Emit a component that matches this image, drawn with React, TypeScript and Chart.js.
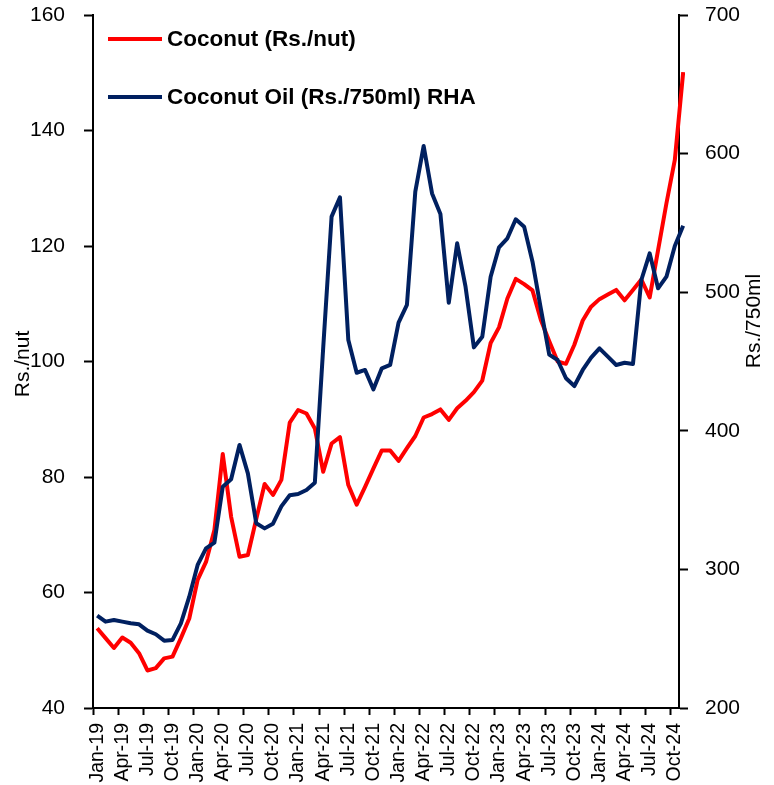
import React, { useEffect, useRef } from 'react';
import { Chart, registerables } from 'chart.js';

Chart.register(...registerables);

const months: string[] = [
  'Jan-19', 'Feb-19', 'Mar-19', 'Apr-19', 'May-19', 'Jun-19', 'Jul-19', 'Aug-19', 'Sep-19', 'Oct-19', 'Nov-19', 'Dec-19',
  'Jan-20', 'Feb-20', 'Mar-20', 'Apr-20', 'May-20', 'Jun-20', 'Jul-20', 'Aug-20', 'Sep-20', 'Oct-20', 'Nov-20', 'Dec-20',
  'Jan-21', 'Feb-21', 'Mar-21', 'Apr-21', 'May-21', 'Jun-21', 'Jul-21', 'Aug-21', 'Sep-21', 'Oct-21', 'Nov-21', 'Dec-21',
  'Jan-22', 'Feb-22', 'Mar-22', 'Apr-22', 'May-22', 'Jun-22', 'Jul-22', 'Aug-22', 'Sep-22', 'Oct-22', 'Nov-22', 'Dec-22',
  'Jan-23', 'Feb-23', 'Mar-23', 'Apr-23', 'May-23', 'Jun-23', 'Jul-23', 'Aug-23', 'Sep-23', 'Oct-23', 'Nov-23', 'Dec-23',
  'Jan-24', 'Feb-24', 'Mar-24', 'Apr-24', 'May-24', 'Jun-24', 'Jul-24', 'Aug-24', 'Sep-24', 'Oct-24', 'Nov-24',
];

// Coconut (Rs./nut) - left axis
const coconut: number[] = [
  53.8, 52.1, 50.4, 52.2, 51.3, 49.5, 46.5, 46.9, 48.6, 48.9, 52.1, 55.5,
  62.2, 65.3, 70.8, 84.0, 73.1, 66.2, 66.5, 72.7, 78.8, 76.9, 79.5, 89.4,
  91.6, 91.0, 88.4, 80.9, 85.8, 86.9, 78.6, 75.2, 78.3, 81.5, 84.6, 84.6,
  82.8, 85.0, 87.1, 90.3, 90.9, 91.7, 89.9, 91.9, 93.2, 94.7, 96.7, 103.2,
  105.9, 110.9, 114.3, 113.4, 112.3, 107.2, 103.5, 100.0, 99.6, 102.9, 107.1, 109.5,
  110.8, 111.6, 112.4, 110.6, 112.4, 114.2, 111.1, 119.3, 127.4, 134.9, 150.1,
];

// Coconut Oil (Rs./750ml) RHA - right axis
const coconutOil: number[] = [
  266.6, 262.3, 263.5, 262.3, 261.1, 260.4, 255.8, 253.2, 248.6, 249.1, 261.1, 280.3,
  303.2, 315.2, 319.3, 359.7, 365.0, 389.8, 369.3, 333.3, 329.6, 333.0, 345.5, 353.5,
  354.4, 357.3, 362.6, 460.0, 554.5, 568.5, 465.5, 441.9, 443.9, 429.9, 445.1, 447.5,
  478.0, 490.8, 572.5, 605.5, 571.3, 556.4, 492.4, 535.3, 504.0, 460.2, 467.9, 511.2,
  532.4, 538.9, 552.6, 547.3, 522.0, 488.0, 455.0, 451.1, 437.9, 432.3, 443.9, 452.8,
  459.5, 453.5, 447.5, 449.1, 448.2, 508.8, 528.0, 502.8, 511.2, 533.3, 548.0,
];

const leftTicks = { min: 40, max: 160, step: 20 };
const rightTicks = { min: 200, max: 700, step: 100 };
const lastShownIndex = 69; // Oct-24 (Nov-24 sits just past the right axis)
const labelEvery = 3;

const seriesNames = ['Coconut (Rs./nut)', 'Coconut Oil (Rs./750ml) RHA'];
const axisTitles = ['Rs./nut', 'Rs./750ml'];

const RED = '#FF0000';
const NAVY = '#002060';
const FONT = '"Liberation Sans", Arial, sans-serif';

const overlayPlugin = {
  id: 'overlay',
  afterDraw(chart: any) {
    const ctx = chart.ctx as CanvasRenderingContext2D;
    ctx.save();
    const rows = [
      { y: 39, color: RED, text: seriesNames[0] },
      { y: 97, color: NAVY, text: seriesNames[1] },
    ];
    rows.forEach((r) => {
      ctx.strokeStyle = r.color;
      ctx.lineWidth = 4;
      ctx.lineCap = 'butt';
      ctx.beginPath();
      ctx.moveTo(108, r.y);
      ctx.lineTo(162, r.y);
      ctx.stroke();
      ctx.fillStyle = '#000';
      ctx.font = `bold 22.5px ${FONT}`;
      ctx.textAlign = 'left';
      ctx.textBaseline = 'middle';
      ctx.fillText(r.text, 167, r.y + 1);
    });
    ctx.font = `21px ${FONT}`;
    ctx.fillStyle = '#000';
    ctx.textAlign = 'center';
    ctx.textBaseline = 'middle';
    ctx.save();
    ctx.translate(23, 364);
    ctx.rotate(-Math.PI / 2);
    ctx.fillText(axisTitles[0], 0, 0);
    ctx.restore();
    ctx.save();
    ctx.translate(754, 321);
    ctx.rotate(-Math.PI / 2);
    ctx.fillText(axisTitles[1], 0, 0);
    ctx.restore();
    ctx.restore();
  },
};

export default function App() {
  const canvasRef = useRef<HTMLCanvasElement | null>(null);

  useEffect(() => {
    if (!canvasRef.current) return;
    const xTickValues: number[] = [];
    for (let i = 0; i <= lastShownIndex; i += labelEvery) {
      xTickValues.push(i - 0.5, i);
    }
    const lineClip = { left: 0, top: 2, right: 6, bottom: 0 };
    const chart = new Chart(canvasRef.current, {
      type: 'line',
      data: {
        datasets: [
          {
            label: seriesNames[0],
            data: coconut.map((v, i) => ({ x: i, y: v })),
            borderColor: RED,
            backgroundColor: RED,
            borderWidth: 4,
            pointRadius: 0,
            tension: 0,
            borderJoinStyle: 'round',
            yAxisID: 'y',
            order: 1,
            clip: lineClip,
          },
          {
            label: seriesNames[1],
            data: coconutOil.map((v, i) => ({ x: i, y: v })),
            borderColor: NAVY,
            backgroundColor: NAVY,
            borderWidth: 4,
            pointRadius: 0,
            tension: 0,
            borderJoinStyle: 'round',
            yAxisID: 'y1',
            order: 0,
            clip: lineClip,
          },
        ],
      },
      options: {
        animation: false,
        responsive: false,
        devicePixelRatio: 1,
        layout: { padding: { top: 15, left: 0, right: 0, bottom: 0 } },
        plugins: {
          legend: { display: false },
          tooltip: { enabled: false },
        },
        scales: {
          x: {
            type: 'linear',
            min: -0.5,
            max: lastShownIndex + 0.5,
            border: { display: true, color: '#000', width: 2 },
            grid: {
              drawOnChartArea: false,
              drawTicks: true,
              tickLength: 7,
              tickWidth: 2,
              color: 'rgba(0,0,0,0)',
              tickColor: (c: any) =>
                c.tick && !Number.isInteger(c.tick.value) ? '#000' : 'rgba(0,0,0,0)',
            },
            afterBuildTicks: (s: any) => {
              s.ticks = xTickValues.map((v) => ({ value: v }));
            },
            ticks: {
              autoSkip: false,
              minRotation: 90,
              maxRotation: 90,
              padding: 8,
              color: '#000',
              font: { family: FONT, size: 19.5 },
              callback: (v: any) => (Number.isInteger(v) ? months[v] : ''),
            },
            afterFit: (s: any) => {
              s.height = 77;
              s.paddingLeft = 0;
              s.paddingRight = 0;
            },
          },
          y: {
            position: 'left',
            min: leftTicks.min,
            max: leftTicks.max,
            border: { display: true, color: '#000', width: 2 },
            grid: { drawOnChartArea: false, tickLength: 9, tickWidth: 2, color: '#000', tickColor: '#000' },
            ticks: {
              stepSize: leftTicks.step,
              padding: 19,
              color: '#000',
              font: { family: FONT, size: 21 },
            },
            afterFit: (s: any) => {
              s.width = 93;
              s.paddingTop = 0;
              s.paddingBottom = 0;
            },
          },
          y1: {
            position: 'right',
            min: rightTicks.min,
            max: rightTicks.max,
            border: { display: true, color: '#000', width: 2 },
            grid: { drawOnChartArea: false, tickLength: 9, tickWidth: 2, color: '#000', tickColor: '#000' },
            ticks: {
              stepSize: rightTicks.step,
              padding: 17,
              color: '#000',
              font: { family: FONT, size: 21 },
            },
            afterFit: (s: any) => {
              s.width = 95;
              s.paddingTop = 0;
              s.paddingBottom = 0;
            },
          },
        },
      } as any,
      plugins: [overlayPlugin],
    });
    return () => chart.destroy();
  }, []);

  return (
    <div style={{ position: 'absolute', left: 0, top: 0, width: 774, height: 785, background: '#fff' }}>
      <canvas ref={canvasRef} width={774} height={785} style={{ display: 'block' }} />
    </div>
  );
}
